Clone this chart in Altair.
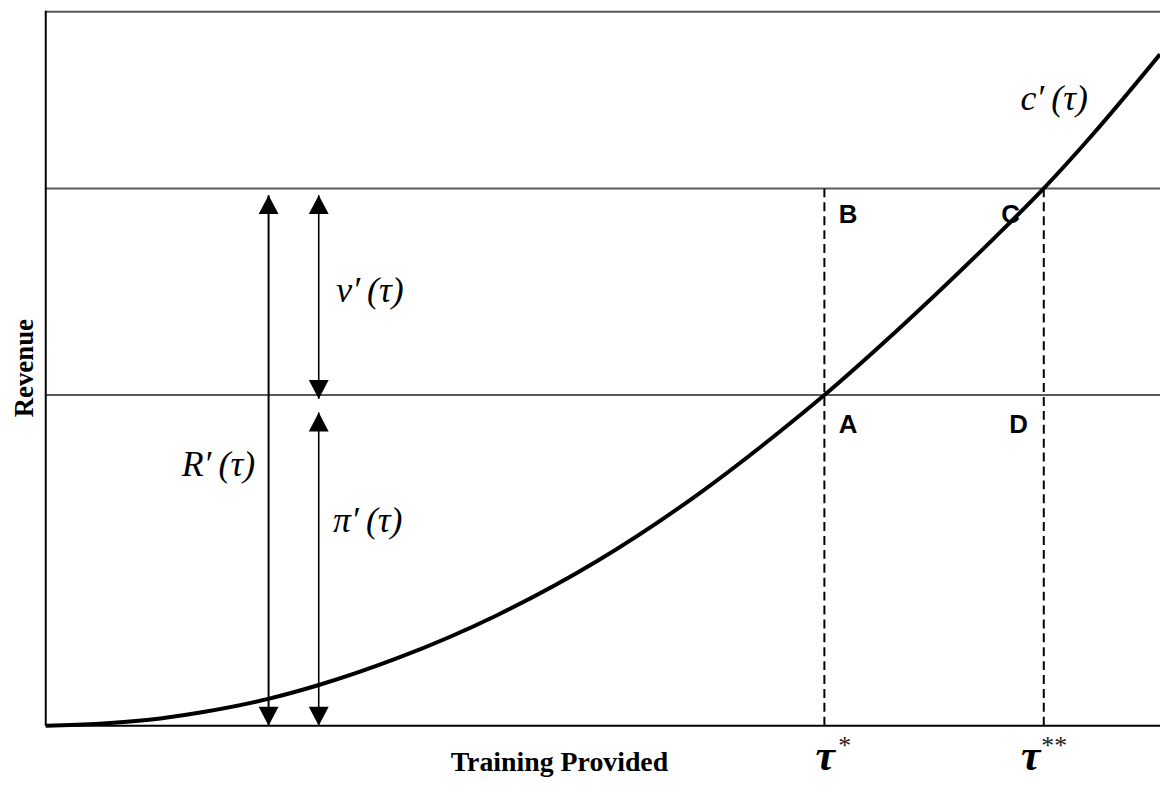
import altair as alt
import pandas as pd

# ---- data (axis units 0..100) ----
curve_x = [0, 4.81, 9.27, 13.73, 19.96, 24.51, 31.55, 40.46, 49.38, 58.29, 65.42, 69.88, 76.11, 85.03, 89.57, 93.94, 100]
curve_y = [0, 0.28, 0.83, 1.81, 3.75, 5.69, 9.44, 15.42, 22.92, 32.08, 40.56, 46.25, 54.86, 68.06, 75.14, 82.64, 93.89]

level_y = [46.25, 75.14]        # revenue levels through A and C
top_y = [99.85]                 # frame line at the top
tau_x = [69.88, 89.57]          # tau*, tau**
tau_top = [75.14, 75.14]

arrow_x = [20.0, 24.5, 24.5]
arrow_top = [74.2, 74.2, 43.8]
arrow_bot = [0.0, 45.7, 0.0]
arrow_w = [2.0, 1.6, 1.6]

math_text = ["c\u2032\u2009(\u03c4)", "\u03bd\u2032\u2009(\u03c4)", "R\u2032\u2009(\u03c4)", "\u03c0\u2032\u2009(\u03c4)"]
math_x = [90.5, 29.1, 15.5, 28.9]
math_y = [87.6, 60.8, 36.5, 28.6]

pt_text = ["B", "C", "A", "D"]
pt_x = [72.0, 86.6, 72.0, 87.3]
pt_y = [71.4, 71.4, 42.1, 42.1]

tau_lbl = ["\u03c4", "\u03c4"]
tau_lbl_x = [69.96, 88.4]
star_lbl = ["*", "**"]
star_x = [71.7, 90.5]

x_title = "Training Provided"
y_title = "Revenue"

# ---- helpers ----
XS = alt.Scale(domain=[0, 100], nice=False, zero=False)
YS = alt.Scale(domain=[0, 100], nice=False, zero=False)


def X(f="x"):
    return alt.X(f"{f}:Q", scale=XS, axis=None)


def Y(f="y"):
    return alt.Y(f"{f}:Q", scale=YS, axis=None)


SERIF = "Liberation Serif"
SANS = "Liberation Sans"

# frame / axes
axes_df = pd.DataFrame({"x": [0.0, 0.0], "x2": [0.0, 100.0], "y": [0.0, 0.0], "y2": [100.0, 0.0]})
axes = alt.Chart(axes_df).mark_rule(color="black", strokeWidth=2).encode(
    x=X(), x2="x2:Q", y=Y(), y2="y2:Q")

top_df = pd.DataFrame({"y": top_y})
top_line = alt.Chart(top_df).mark_rule(color="#5a5a5a", strokeWidth=2).encode(
    y=Y(), x=alt.value(0), x2=alt.value(1122))

lev_df = pd.DataFrame({"y": level_y})
levels = alt.Chart(lev_df).mark_rule(color="#5a5a5a", strokeWidth=2).encode(
    y=Y(), x=alt.value(0), x2=alt.value(1122))

tau_df = pd.DataFrame({"x": tau_x, "y": [0.0, 0.0], "y2": tau_top})
dashes = alt.Chart(tau_df).mark_rule(color="black", strokeWidth=2, strokeDash=[9, 5]).encode(
    x=X(), y=Y(), y2="y2:Q")

curve_df = pd.DataFrame({"x": curve_x, "y": curve_y})
curve = alt.Chart(curve_df).mark_line(color="black", strokeWidth=4, interpolate="monotone").encode(
    x=X(), y=Y())

arr_df = pd.DataFrame({"x": arrow_x, "y": arrow_bot, "y2": arrow_top, "w": arrow_w})
shafts = alt.Chart(arr_df).mark_rule(color="black").encode(
    x=X(), y=Y(), y2="y2:Q", strokeWidth=alt.StrokeWidth("w:Q", scale=None, legend=None))

heads_up = alt.Chart(arr_df).mark_point(
    shape="M0,0L1,1.9L-1,1.9Z", filled=True, size=400, color="black", opacity=1
).encode(x=X(), y=Y("y2"))
heads_dn = alt.Chart(arr_df).mark_point(
    shape="M0,0L1,-1.9L-1,-1.9Z", filled=True, size=400, color="black", opacity=1
).encode(x=X(), y=Y())

math_df = pd.DataFrame({"x": math_x, "y": math_y, "t": math_text})
math_lbl = alt.Chart(math_df).mark_text(
    font=SERIF, fontStyle="italic", fontSize=36, color="black", align="center", baseline="middle"
).encode(x=X(), y=Y(), text="t:N")

pt_df = pd.DataFrame({"x": pt_x, "y": pt_y, "t": pt_text})
pt_lbl = alt.Chart(pt_df).mark_text(
    font=SANS, fontWeight="bold", fontSize=26, color="black", align="center", baseline="middle"
).encode(x=X(), y=Y(), text="t:N")

taul_df = pd.DataFrame({"x": tau_lbl_x, "y": [-6.2, -6.2], "t": tau_lbl})
tau_text = alt.Chart(taul_df).mark_text(
    font=SERIF, fontStyle="italic", fontWeight="bold", fontSize=44, color="black",
    align="center", baseline="alphabetic"
).encode(x=X(), y=Y(), text="t:N")

star_df = pd.DataFrame({"x": star_x, "y": [-4.0, -4.0], "t": star_lbl})
star_text = alt.Chart(star_df).mark_text(
    font=SERIF, fontSize=26, color="#222222", align="center", baseline="alphabetic"
).encode(x=X(), y=Y(), text="t:N")

xt_df = pd.DataFrame({"x": [46.1], "y": [-6.3], "t": [x_title]})
x_t = alt.Chart(xt_df).mark_text(
    font=SERIF, fontWeight="bold", fontSize=28, color="black", align="center", baseline="alphabetic"
).encode(x=X(), y=Y(), text="t:N")

yt_df = pd.DataFrame({"x": [-1.9], "y": [50.0], "t": [y_title]})
y_t = alt.Chart(yt_df).mark_text(
    font=SERIF, fontWeight="bold", fontSize=27, color="black", align="center", baseline="middle", angle=270
).encode(x=X(), y=Y(), text="t:N")

chart = alt.layer(
    top_line, levels, dashes, shafts, heads_up, heads_dn, axes, curve,
    math_lbl, pt_lbl, tau_text, star_text, x_t, y_t
).properties(
    width=1122, height=720,
    padding={"left": 38, "top": 0, "right": 0, "bottom": 53},
    autosize=alt.AutoSizeParams(type="none"),
).configure_view(stroke=None)

chart.save("out.html", embed_options={"renderer": "svg", "actions": False})
